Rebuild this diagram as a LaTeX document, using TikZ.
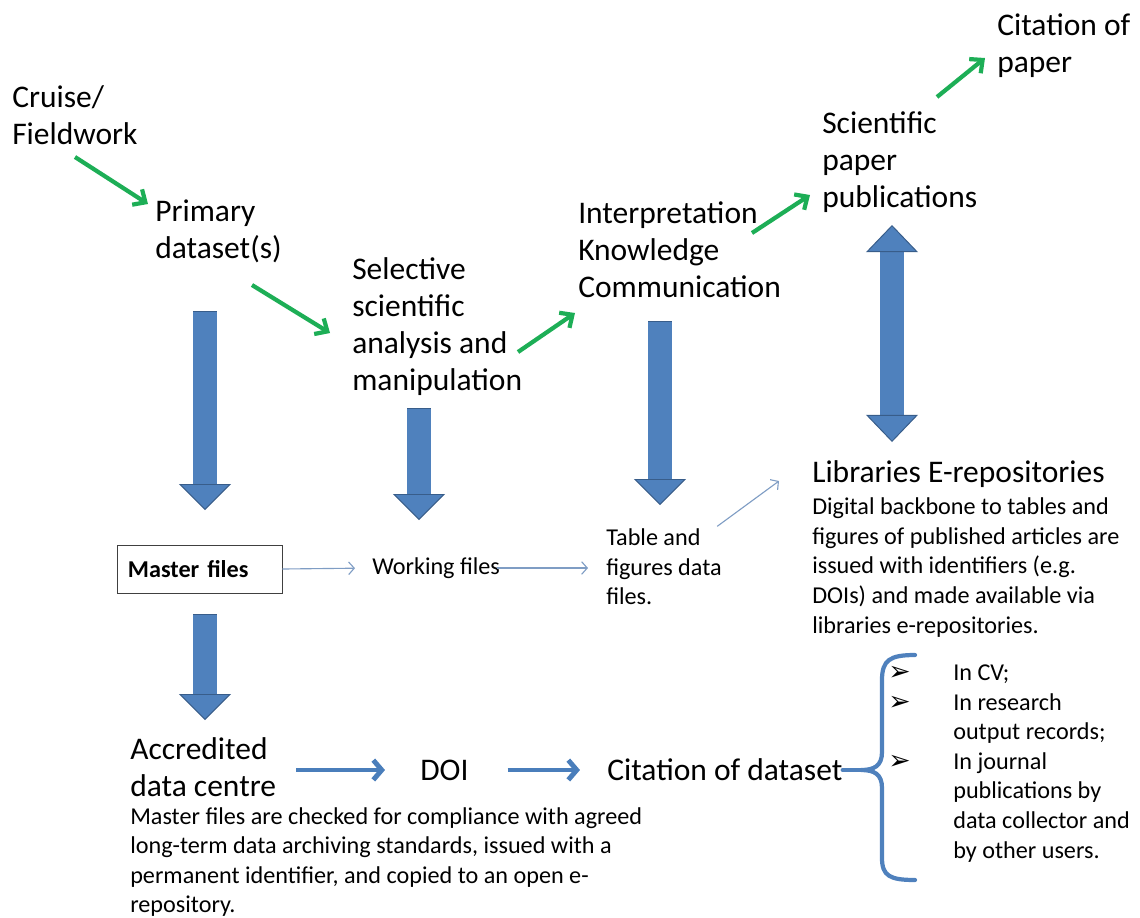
\documentclass[tikz,border=0pt]{standalone}
\usepackage{fontspec}
\setmainfont{Carlito}
\newfontfamily\symfont{DejaVu Sans}
\usetikzlibrary{arrows.meta}

\definecolor{arrowgreen}{HTML}{1DAE56}
\definecolor{blockfill}{HTML}{4F81BD}
\definecolor{blockline}{HTML}{385D8A}
\definecolor{linkblue}{HTML}{4A7EBB}
\definecolor{thinblue}{HTML}{7F9DC4}
\definecolor{boxgrey}{HTML}{404040}

\tikzset{
    bigtext/.style={font=\fontsize{22.4}{26.3}\selectfont, align=left, anchor=west, inner sep=0pt},
    smalltext/.style={font=\fontsize{17.2}{21}\selectfont, align=left, anchor=west, inner sep=0pt},
    greenarrow/.style={draw=arrowgreen, line width=3pt, -{Straight Barb[length=7pt,width=13pt]}},
    blockarrow/.style={draw=blockfill, line width=0.58cm,
        -{Triangle[width=1.3cm,length=0.65cm,fill=blockfill,color=blockline,line width=0.7pt]},
        preaction={draw=blockline, line width=0.62cm, -, shorten >=0.65cm, shorten <=-0.7pt}},
    dblockarrow/.style={draw=blockfill, line width=0.58cm,
        {Triangle[width=1.3cm,length=0.68cm,fill=blockfill,color=blockline,line width=0.7pt]}-{Triangle[width=1.3cm,length=0.68cm,fill=blockfill,color=blockline,line width=0.7pt]},
        preaction={draw=blockline, line width=0.62cm, -, shorten >=0.68cm, shorten <=0.68cm}},
    linkarrow/.style={draw=linkblue, line width=3.5pt, -{Straight Barb[length=6pt,width=14pt]}},
    thinarrow/.style={draw=thinblue, line width=0.8pt, -{Straight Barb[length=4pt,width=9pt]}},
    bracket/.style={draw=blockfill, line width=3pt, line cap=round}
}
\newcommand\usebullet{\makebox[1.625cm][l]{\symfont\bfseries\fontsize{19}{21}\selectfont ➢}}

\begin{document}
\begin{tikzpicture}[x=0.025cm, y=-0.025cm]
        \useasboundingbox (0,0) rectangle (1140,917);

        % workflow steps
        \begin{scope}[every node/.style={bigtext}]
            \node (cruise) at (12, 115.5) {Cruise/\\Fieldwork};
            \node (primary) at (155, 231.5) {Primary\\dataset(s)};
            \node (selective) at (352, 327) {Selective\\scientific\\analysis and\\manipulation};
            \node (interp) at (578, 250) {Interpretation\\Knowledge\\Communication};
            \node (paper) at (822, 162) {Scientific\\paper\\publications};
            \node (citpaper) at (997, 45.5) {Citation of\\paper};
            \node (libraries) at (812, 474) {Libraries E-repositories};
            \node (accredited) at (130, 767) {Accredited\\data centre};
            \node (doi) at (420, 770) {DOI};
            \node (citdata) at (607, 770) {Citation of dataset};
        \end{scope}

        % files and notes
        \begin{scope}[every node/.style={smalltext}]
            \node (working) at (372, 568) {Working files};
            \node (tablefig) at (606, 567) {Table and\\figures data\\files.};
            \node (libnote) at (812, 567.5) {Digital backbone to tables and\\figures of published articles are\\issued with identifiers (e.g.\\DOIs) and made available via\\libraries e-repositories.};
            \node (centrenote) at (130, 862) {Master files are checked for compliance with agreed\\long-term data archiving standards, issued with a\\permanent identifier, and copied to an open e-\\repository.};
            \node (uses) at (888, 763.5) {\begin{tabular}{@{}l@{}l@{}}
                \usebullet & In CV;\\
                \usebullet & In research\\
                & output records;\\
                \usebullet & In journal\\
                & publications by\\
                & data collector and\\
                & by other users.
            \end{tabular}};
        \end{scope}
        \node[smalltext, anchor=center, draw=boxgrey, line width=0.6pt, font=\fontsize{17.2}{21}\selectfont\bfseries,
              text width=3.575cm, inner xsep=0.275cm, minimum height=1.2cm] (master) at (199.5, 569) {Master files};

        % green flow
        \coordinate (g1a) at (75, 157);   \coordinate (g1b) at (148, 204);
        \coordinate (g2a) at (252, 285);  \coordinate (g2b) at (330, 333);
        \coordinate (g3a) at (518, 352);  \coordinate (g3b) at (575, 313);
        \coordinate (g4a) at (752, 233);  \coordinate (g4b) at (810, 195);
        \coordinate (g5a) at (937, 97);   \coordinate (g5b) at (985, 58);
        \draw[greenarrow] (g1a) -- (g1b);
        \draw[greenarrow] (g2a) -- (g2b);
        \draw[greenarrow] (g3a) -- (g3b);
        \draw[greenarrow] (g4a) -- (g4b);
        \draw[greenarrow] (g5a) -- (g5b);

        % block arrows
        \coordinate (b1a) at (205, 312);  \coordinate (b1b) at (205, 510);
        \coordinate (b2a) at (419, 409);  \coordinate (b2b) at (419, 520);
        \coordinate (b3a) at (660, 322);  \coordinate (b3b) at (660, 505);
        \coordinate (b4a) at (892, 225);  \coordinate (b4b) at (892, 442);
        \coordinate (b5a) at (205, 615);  \coordinate (b5b) at (205, 720);
        \draw[blockarrow] (b1a) -- (b1b);
        \draw[blockarrow] (b2a) -- (b2b);
        \draw[blockarrow] (b3a) -- (b3b);
        \draw[dblockarrow] (b4a) -- (b4b);
        \draw[blockarrow] (b5a) -- (b5b);

        % file links
        \coordinate (libin) at (779, 481);
        \draw[thinarrow, shorten >=0.425cm] (master.east) -- (working.west);
        \draw[thinarrow, shorten <=-0.08cm, shorten >=0.45cm] (working.east) -- (working.east -| tablefig.west);
        \draw[thinarrow, shorten <=0.1cm] ([xshift=-0.2cm]tablefig.north east) -- (libin);

        % dataset citation
        \draw[linkarrow, shorten <=0.5cm, shorten >=0.875cm] (doi.west -| accredited.east) -- (doi.west);
        \draw[linkarrow, shorten <=0.975cm, shorten >=0.675cm] (doi.east) -- (citdata.west);
        \coordinate (bracetip) at (861, 770);
        \draw[bracket] (citdata.east) -- (bracetip);
        \draw[bracket] (915, 655) .. controls (890, 655) and (882, 660) .. (882, 680) -- (882, 752)
            .. controls (882, 766) and (874, 770) .. (bracetip)
            .. controls (874, 770) and (882, 774) .. (882, 788) -- (882, 858)
            .. controls (882, 876) and (890, 880) .. (915, 880);
\end{tikzpicture}
\end{document}
